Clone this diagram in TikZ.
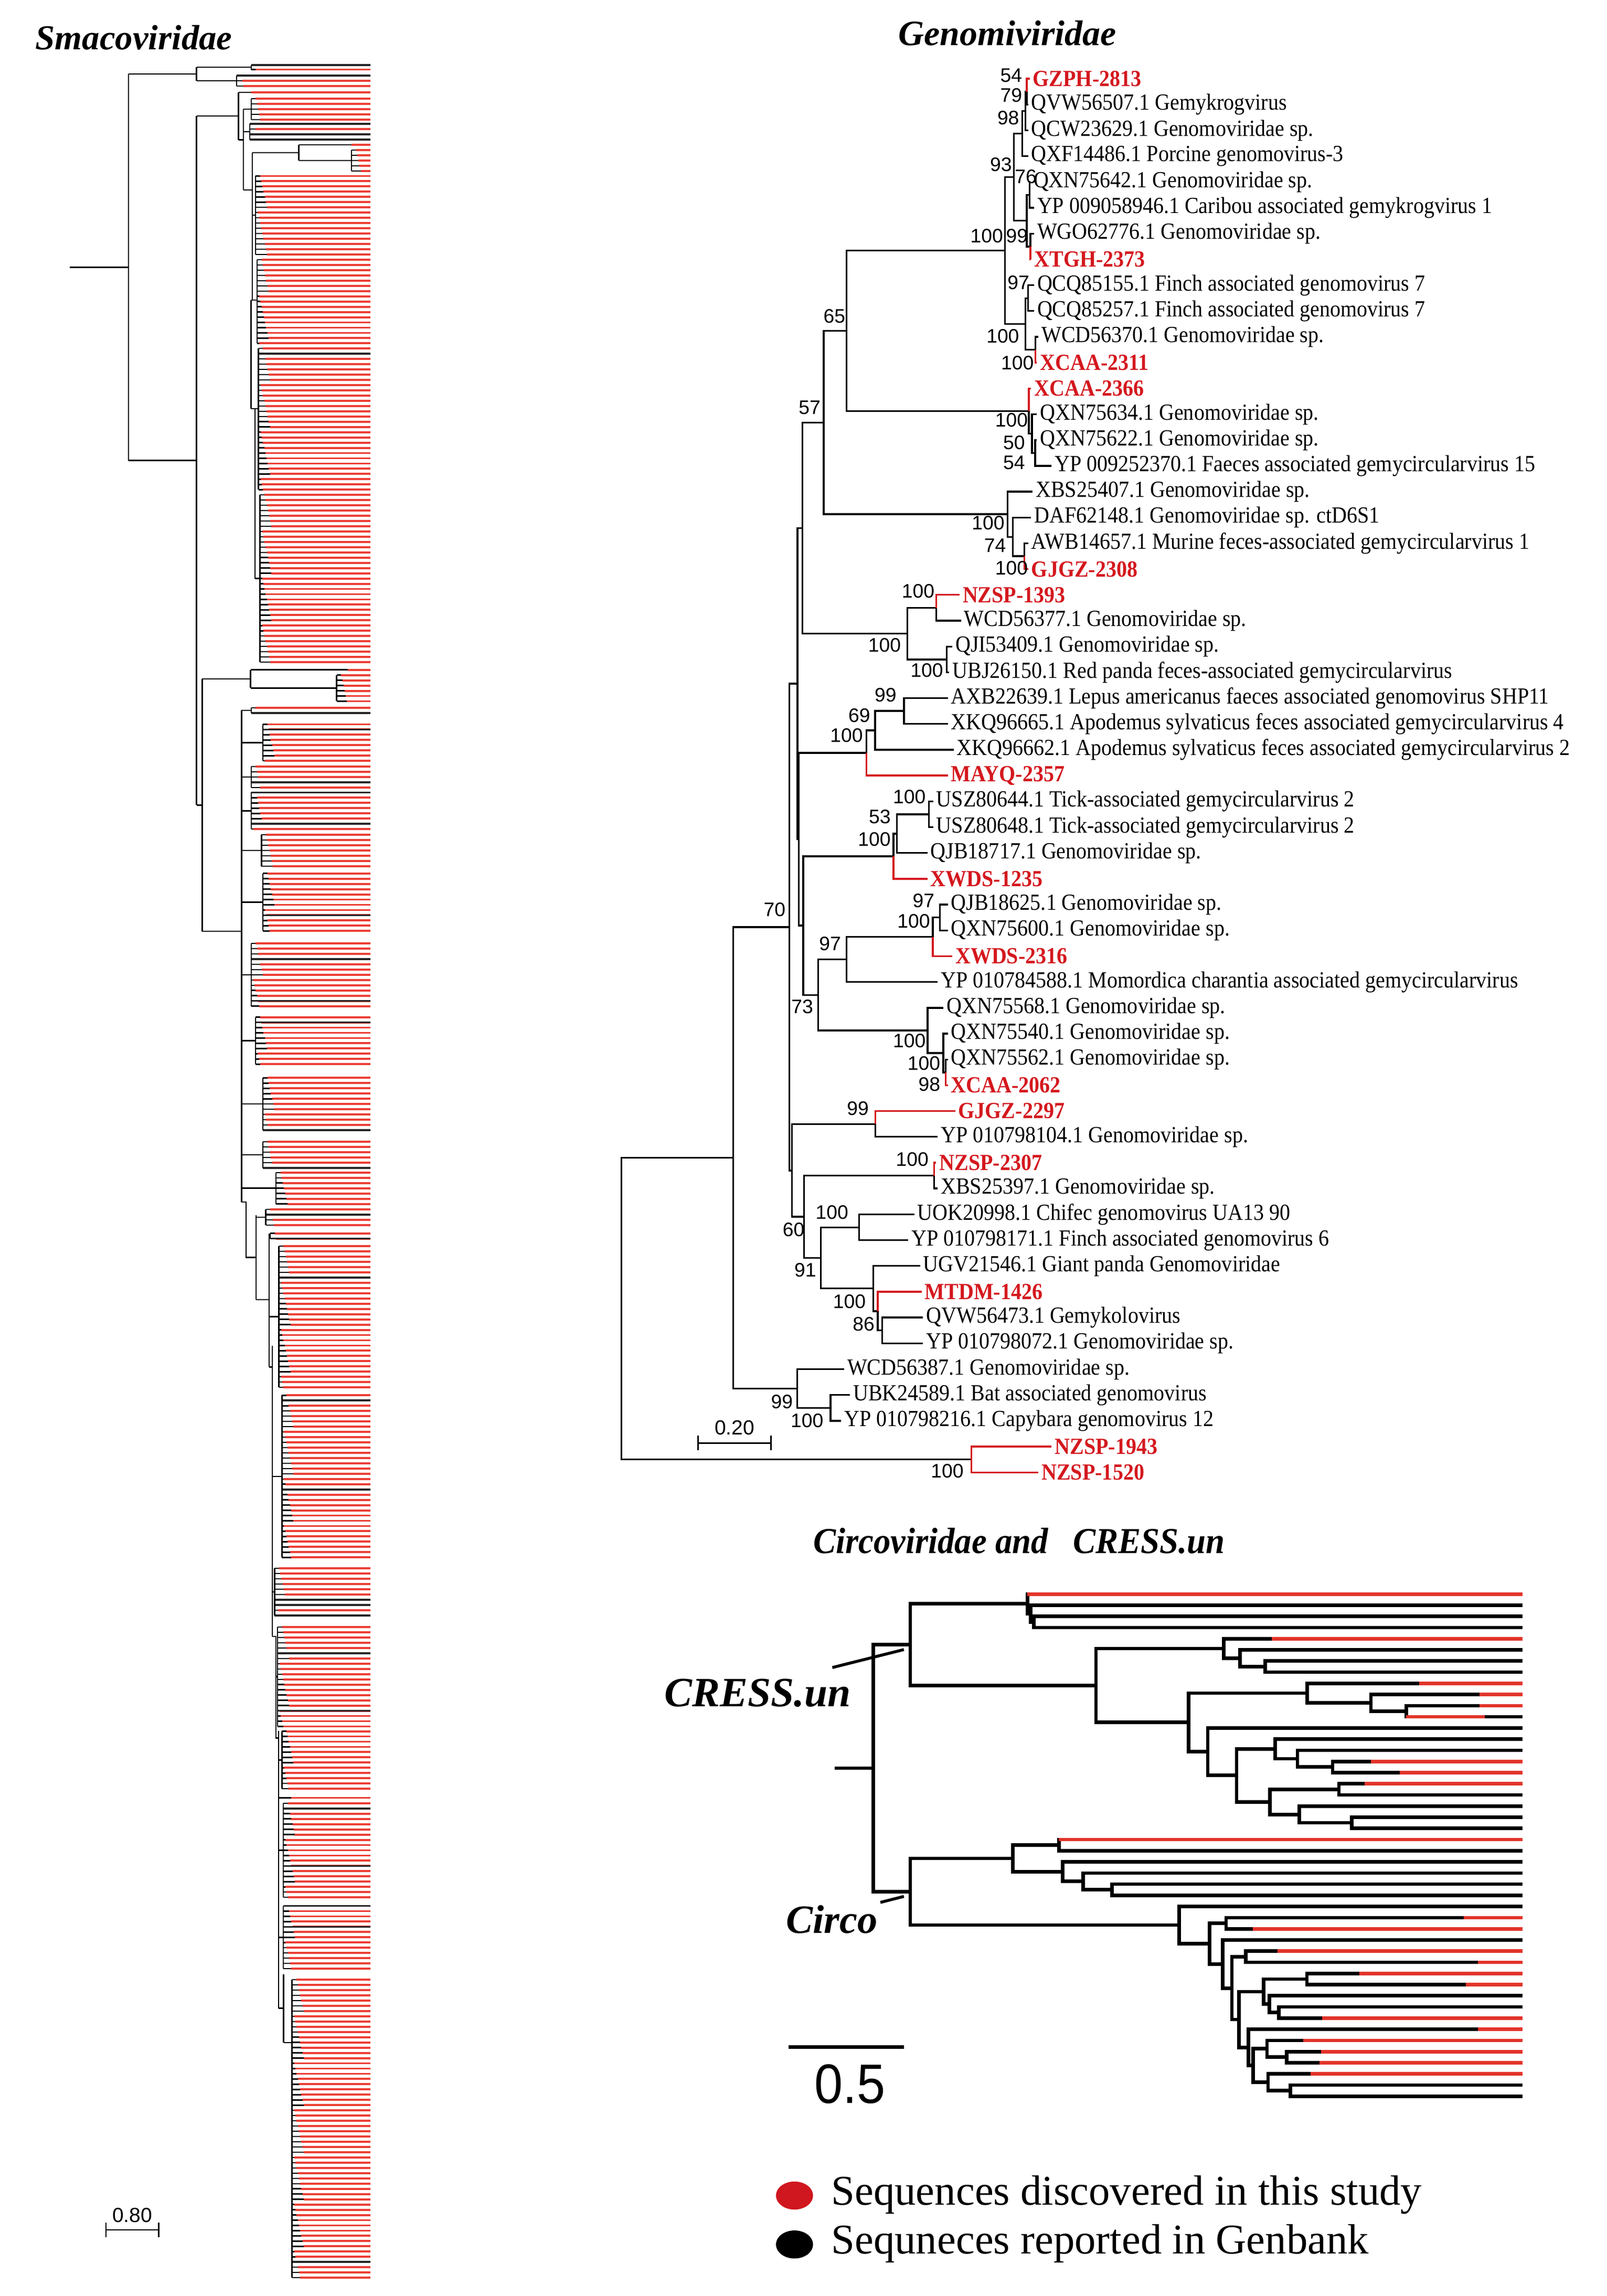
\documentclass[tikz,border=0pt]{standalone}
\usepackage{fontspec}
\setmainfont{Liberation Serif}
\newfontfamily\lfam[FakeStretch=0.91]{Liberation Serif}
\newfontfamily\tfam[FakeStretch=0.93]{Liberation Serif}
\newfontfamily\nfam{Liberation Sans}
\newfontfamily\nfamc[FakeStretch=0.92]{Liberation Sans}
\definecolor{gred}{RGB}{212,24,30}
\definecolor{cred}{RGB}{226,52,42}
\definecolor{sred}{RGB}{236,62,52}
\definecolor{lred}{RGB}{208,22,30}
\newcommand\ry[1]{(53.9+17.67*(#1-1))}
\newcommand\cy[1]{(1091.4+7.64*#1)}
\newcommand\gE[3][gb]{\draw[#1] (#2) |- (#3);}
\newcommand\cE[2]{\draw[cb] (#1) |- (#2);}
\newcommand\cL[2]{\draw[cb] (#1) |- (1042.5,{\cy{#2}});}
\newcommand\cR[2]{\draw[cr] (#1,{\cy{#2}}) -- (1042.5,{\cy{#2}});}
\newcommand\smblk[4]{%
  \pgfmathtruncatemacro\smn{#2-1}%
  \foreach \kk in {0,...,\smn}{%
    \pgfmathsetmacro\yy{#1+\kk*3.58}%
    \pgfmathsetmacro\xs{#3+1.5+mod(\kk*37+11,9)*0.8}%
    \draw[smr] (\xs,\yy) -- (253.6,\yy);
    \draw[smk] (#3,\yy) -- (\xs,\yy);
  }%
  \foreach \kk in {#4}{%
    \ifnum\kk<#2\relax
      \pgfmathsetmacro\yy{#1+\kk*3.58}%
      \draw[smb] (#3,\yy) -- (253.6,\yy);
    \fi
  }%
  \draw[smk] (#3,#1) -- (#3,{#1+\smn*3.58});
}
\tikzset{
  gb/.style={line width=1.2pt, draw=black},
  gr/.style={line width=1.2pt, draw=gred},
  lf/.style={anchor=west, inner xsep=2pt, inner ysep=0pt, font=\lfam\fontsize{15.8}{17}\selectfont},
  rl/.style={lf, text=gred, font=\lfam\bfseries\fontsize{15.8}{17}\selectfont},
  bsn/.style={anchor=east, inner sep=0pt, font=\nfam\fontsize{13.4}{14}\selectfont},
  cb/.style={line width=2.4pt, draw=black},
  cr/.style={line width=2.4pt, draw=cred},
  smk/.style={line width=0.9pt, draw=black},
  smr/.style={line width=1.4pt, draw=sred},
  smb/.style={line width=1.3pt, draw=black!85},
}
\begin{document}
\begin{tikzpicture}[x=1pt,y=-1pt]
\fill[white] (0,0) rectangle (1100,1572);
\useasboundingbox (0,0) rectangle (1100,1572);

% ---------------- titles ----------------
\node[anchor=base west, inner sep=0pt, font=\bfseries\itshape\fontsize{24}{26}\selectfont] (tS) at (24.1,34) {Smacoviridae};
\node[anchor=base west, inner sep=0pt, font=\bfseries\itshape\fontsize{24.4}{26}\selectfont] (tG) at (615,30.9) {Genomiviridae};
\node[inner sep=0pt, font=\tfam\bfseries\itshape\fontsize{25}{28}\selectfont] (tC) at (697.8,1055) {Circoviridae and\hspace{0.45em} CRESS.un};

% ================= Genomiviridae =================
\coordinate (root) at (425.4,896.0);
\coordinate (A) at (502,792.7);
\coordinate (Zn) at (665,999.3);
\coordinate (B) at (540.5,634.7);
\coordinate (C) at (545.8,950.7);
\coordinate (D) at (568.6,963.9);
\coordinate (I) at (546,468.1);
\coordinate (E) at (542.3,801.4);
\coordinate (H) at (549.5,361.6);
\coordinate (M) at (547,574.6);
\coordinate (G) at (564,289.3);
\coordinate (Nn) at (621.4,433.8);
\coordinate (F) at (579.5,226.5);
\coordinate (X1) at (689.9,352.1);
\coordinate (X2) at (693.4,367.6);
\coordinate (X3) at (701.3,380.8);
\coordinate (T1) at (688.2,171.5);
\coordinate (U1) at (704.4,281.4);
\coordinate (V) at (706.6,296.9);
\coordinate (W) at (708.7,310.2);
\coordinate (T2) at (694.3,121.3);
\coordinate (T5) at (702,221.8);
\coordinate (n98) at (700,91.4);
\coordinate (n79) at (702,76);
\coordinate (n54) at (703,62.75);
\coordinate (T4) at (703,151.1);
\coordinate (n76) at (705,133.4);
\coordinate (n99) at (705.5,168.8);
\coordinate (n97) at (704,204.1);
\coordinate (n100a) at (709,239.5);
\coordinate (NZ) at (641,416.2);
\coordinate (QJ) at (648.3,451.5);
\coordinate (K) at (593.2,515.5);
\coordinate (k69) at (599.2,500.1);
\coordinate (k99) at (619,486.8);
\coordinate (L) at (550,633.7);
\coordinate (P) at (611.8,586.2);
\coordinate (p53) at (614.2,570.8);
\coordinate (p100) at (636,557.5);
\coordinate (Q) at (560.3,681.2);
\coordinate (q97) at (579.5,656.9);
\coordinate (q100) at (638.7,641.4);
\coordinate (q97b) at (643.5,628.2);
\coordinate (r100) at (635.1,705.5);
\coordinate (r100b) at (645.9,721.0);
\coordinate (r98) at (647.5,734.2);
\coordinate (e99) at (599.3,769.6);
\coordinate (E2) at (550.5,833.1);
\coordinate (e2307) at (639.6,804.9);
\coordinate (q2) at (562,861.3);
\coordinate (q3) at (588.3,840.3);
\coordinate (q4) at (598,882.2);
\coordinate (n1) at (601,897.7);
\coordinate (n2) at (604,910.9);

\node[rl] (g1) at (705,{\ry{1}}) {GZPH-2813};
\node[lf] (g2) at (704,{\ry{2}}) {QVW56507.1 Gemykrogvirus};
\node[lf] (g3) at (704,{\ry{3}}) {QCW23629.1 Genomoviridae sp.};
\node[lf] (g4) at (704,{\ry{4}}) {QXF14486.1 Porcine genomovirus-3};
\node[lf] (g5) at (705.5,{\ry{5}}) {QXN75642.1 Genomoviridae sp.};
\node[lf] (g6) at (708,{\ry{6}}) {YP 009058946.1 Caribou associated gemykrogvirus 1};
\node[lf] (g7) at (708,{\ry{7}}) {WGO62776.1 Genomoviridae sp.};
\node[rl] (g8) at (706,{\ry{8}}) {XTGH-2373};
\node[lf] (g9) at (708,{\ry{9}}) {QCQ85155.1 Finch associated genomovirus 7};
\node[lf] (g10) at (708,{\ry{10}}) {QCQ85257.1 Finch associated genomovirus 7};
\node[lf] (g11) at (711,{\ry{11}}) {WCD56370.1 Genomoviridae sp.};
\node[rl] (g12) at (710,{\ry{12}}) {XCAA-2311};
\node[rl] (g13) at (706,{\ry{13}}) {XCAA-2366};
\node[lf] (g14) at (710,{\ry{14}}) {QXN75634.1 Genomoviridae sp.};
\node[lf] (g15) at (710,{\ry{15}}) {QXN75622.1 Genomoviridae sp.};
\node[lf] (g16) at (720,{\ry{16}}) {YP 009252370.1 Faeces associated gemycircularvirus 15};
\node[lf] (g17) at (707,{\ry{17}}) {XBS25407.1 Genomoviridae sp.};
\node[lf] (g18) at (706,{\ry{18}}) {DAF62148.1 Genomoviridae sp. ctD6S1};
\node[lf] (g19) at (704,{\ry{19}}) {AWB14657.1 Murine feces-associated gemycircularvirus 1};
\node[rl] (g20) at (704,{\ry{20}}) {GJGZ-2308};
\node[rl] (g21) at (657,{\ry{21}}) {NZSP-1393};
\node[lf] (g22) at (658,{\ry{22}}) {WCD56377.1 Genomoviridae sp.};
\node[lf] (g23) at (652,{\ry{23}}) {QJI53409.1 Genomoviridae sp.};
\node[lf] (g24) at (650,{\ry{24}}) {UBJ26150.1 Red panda feces-associated gemycircularvirus};
\node[lf] (g25) at (649,{\ry{25}}) {AXB22639.1 Lepus americanus faeces associated genomovirus SHP11};
\node[lf] (g26) at (649,{\ry{26}}) {XKQ96665.1 Apodemus sylvaticus feces associated gemycircularvirus 4};
\node[lf] (g27) at (653,{\ry{27}}) {XKQ96662.1 Apodemus sylvaticus feces associated gemycircularvirus 2};
\node[rl] (g28) at (649,{\ry{28}}) {MAYQ-2357};
\node[lf] (g29) at (639,{\ry{29}}) {USZ80644.1 Tick-associated gemycircularvirus 2};
\node[lf] (g30) at (639,{\ry{30}}) {USZ80648.1 Tick-associated gemycircularvirus 2};
\node[lf] (g31) at (635,{\ry{31}}) {QJB18717.1 Genomoviridae sp.};
\node[rl] (g32) at (635,{\ry{32}}) {XWDS-1235};
\node[lf] (g33) at (649,{\ry{33}}) {QJB18625.1 Genomoviridae sp.};
\node[lf] (g34) at (649,{\ry{34}}) {QXN75600.1 Genomoviridae sp.};
\node[rl] (g35) at (652,{\ry{35}}) {XWDS-2316};
\node[lf] (g36) at (642,{\ry{36}}) {YP 010784588.1 Momordica charantia associated gemycircularvirus};
\node[lf] (g37) at (646,{\ry{37}}) {QXN75568.1 Genomoviridae sp.};
\node[lf] (g38) at (649,{\ry{38}}) {QXN75540.1 Genomoviridae sp.};
\node[lf] (g39) at (649,{\ry{39}}) {QXN75562.1 Genomoviridae sp.};
\node[rl] (g40) at (649,{\ry{40}}) {XCAA-2062};
\node[rl] (g41) at (654,{\ry{41}}) {GJGZ-2297};
\node[lf] (g42) at (642,{\ry{42}}) {YP 010798104.1 Genomoviridae sp.};
\node[rl] (g43) at (641,{\ry{43}}) {NZSP-2307};
\node[lf] (g44) at (642,{\ry{44}}) {XBS25397.1 Genomoviridae sp.};
\node[lf] (g45) at (626,{\ry{45}}) {UOK20998.1 Chifec genomovirus UA13 90};
\node[lf] (g46) at (622,{\ry{46}}) {YP 010798171.1 Finch associated genomovirus 6};
\node[lf] (g47) at (630,{\ry{47}}) {UGV21546.1 Giant panda Genomoviridae};
\node[rl] (g48) at (631,{\ry{48}}) {MTDM-1426};
\node[lf] (g49) at (632,{\ry{49}}) {QVW56473.1 Gemykolovirus};
\node[lf] (g50) at (632,{\ry{50}}) {YP 010798072.1 Genomoviridae sp.};
\node[lf] (g51) at (578,{\ry{51}}) {WCD56387.1 Genomoviridae sp.};
\node[lf] (g52) at (582,{\ry{52}}) {UBK24589.1 Bat associated genomovirus};
\node[lf] (g53) at (576,{\ry{53}}) {YP 010798216.1 Capybara genomovirus 12};
\node[rl] (g54) at (720,{\ry{54}}) {NZSP-1943};
\node[rl] (g55) at (711,{\ry{55}}) {NZSP-1520};

% branches
\gE{root}{A} \gE{root}{Zn}
\gE{A}{B} \gE{A}{C}
\gE{B}{I} \gE{B}{E}
\gE{I}{H} \gE{I}{M}
\gE{H}{G} \gE{H}{Nn}
\gE{G}{F} \gE{G}{X1}
\gE{F}{T1} \gE{F}{U1}
\gE{T1}{T2} \gE{T1}{T5}
\gE{T2}{n98} \gE{T2}{T4}
\gE{n98}{n79} \gE{n98}{g4.west}
\gE{n79}{n54} \gE{n79}{g3.west}
\gE[gr]{n54}{g1.west} \gE{n54}{g2.west}
\gE{T4}{n76} \gE{T4}{n99}
\gE{n76}{g5.west} \gE{n76}{g6.west}
\gE{n99}{g7.west} \gE[gr]{n99}{g8.west}
\gE{T5}{n97} \gE{T5}{n100a}
\gE{n97}{g9.west} \gE{n97}{g10.west}
\gE{n100a}{g11.west} \gE[gr]{n100a}{g12.west}
\gE[gr]{U1}{g13.west} \gE{U1}{V}
\gE{V}{g14.west} \gE{V}{W}
\gE{W}{g15.west} \gE{W}{g16.west}
\gE{X1}{g17.west} \gE{X1}{X2}
\gE{X2}{g18.west} \gE{X2}{X3}
\gE{X3}{g19.west} \gE[gr]{X3}{g20.west}
\gE{Nn}{NZ} \gE{Nn}{QJ}
\gE[gr]{NZ}{g21.west} \gE{NZ}{g22.west}
\gE{QJ}{g23.west} \gE{QJ}{g24.west}
\gE{M}{K} \gE{M}{L}
\gE{K}{k69} \gE[gr]{K}{g28.west}
\gE{k69}{k99} \gE{k69}{g27.west}
\gE{k99}{g25.west} \gE{k99}{g26.west}
\gE{L}{P} \gE{L}{Q}
\gE{P}{p53} \gE[gr]{P}{g32.west}
\gE{p53}{p100} \gE{p53}{g31.west}
\gE{p100}{g29.west} \gE{p100}{g30.west}
\gE{Q}{q97} \gE{Q}{r100}
\gE{q97}{q100} \gE{q97}{g36.west}
\gE{q100}{q97b} \gE[gr]{q100}{g35.west}
\gE{q97b}{g33.west} \gE{q97b}{g34.west}
\gE{r100}{g37.west} \gE{r100}{r100b}
\gE{r100b}{g38.west} \gE{r100b}{r98}
\gE{r98}{g39.west} \gE[gr]{r98}{g40.west}
\gE{E}{e99} \gE{E}{E2}
\gE[gr]{e99}{g41.west} \gE{e99}{g42.west}
\gE{E2}{e2307} \gE{E2}{q2}
\gE[gr]{e2307}{g43.west} \gE{e2307}{g44.west}
\gE{q2}{q3} \gE{q2}{q4}
\gE{q3}{g45.west} \gE{q3}{g46.west}
\gE{q4}{g47.west} \gE{q4}{n1}
\gE[gr]{n1}{g48.west} \gE{n1}{n2}
\gE{n2}{g49.west} \gE{n2}{g50.west}
\gE{C}{g51.west} \gE{C}{D}
\gE{D}{g52.west} \gE{D}{g53.west}
\gE[gr]{Zn}{g54.west} \gE[gr]{Zn}{g55.west}

% bootstrap values
\node[bsn] (b1) at (700,51.6) {54};
\node[bsn] (b2) at (700,65.3) {79};
\node[bsn] (b3) at (698,80.8) {98};
\node[bsn] (b4) at (693,112.6) {93};
\node[bsn] (b5) at (710,121) {76};
\node[bsn] (b6) at (687,161.6) {100};
\node[bsn] (b7) at (704,161.6) {99};
\node[bsn] (b8) at (705,193.4) {97};
\node[bsn] (b9) at (698,230.3) {100};
\node[bsn] (b10) at (708,248.4) {100};
\node[bsn] (b11) at (579,216.6) {65};
\node[bsn] (b12) at (562,278.9) {57};
\node[bsn] (b13) at (704,287.5) {100};
\node[bsn] (b14) at (702,303) {50};
\node[bsn] (b15) at (702,316.7) {54};
\node[bsn] (b16) at (688,358) {100};
\node[bsn] (b17) at (689,373.5) {74};
\node[bsn] (b18) at (704,388.9) {100};
\node[bsn] (b19) at (640,404.6) {100};
\node[bsn] (b20) at (617,441.8) {100};
\node[bsn] (b21) at (646,458.8) {100};
\node[bsn] (b22) at (614,475.8) {99};
\node[bsn] (b23) at (596,489.7) {69};
\node[bsn] (b24) at (591,503.6) {100};
\node[bsn] (b25) at (634,545.4) {100};
\node[bsn] (b26) at (610,559.3) {53};
\node[bsn] (b27) at (610,574.8) {100};
\node[bsn] (b28) at (538,622.8) {70};
\node[bsn] (b29) at (640,616.6) {97};
\node[bsn] (b30) at (637,630.5) {100};
\node[bsn] (b31) at (576,646) {97};
\node[bsn] (b32) at (557,689.3) {73};
\node[bsn] (b33) at (634,712.5) {100};
\node[bsn] (b34) at (644,728) {100};
\node[bsn] (b35) at (644,742.5) {98};
\node[bsn] (b36) at (595,759) {99};
\node[bsn] (b37) at (636,793.9) {100};
\node[bsn] (b38) at (581,830) {100};
\node[bsn] (b39) at (551,842) {60};
\node[bsn] (b40) at (559,869.5) {91};
\node[bsn] (b41) at (593,891) {100};
\node[bsn] (b42) at (599,906.4) {86};
\node[bsn] (b43) at (543,959.7) {99};
\node[bsn] (b44) at (564,972.6) {100};
\node[bsn] (b45) at (660,1007) {100};

% scale bar 0.20
\coordinate (sg1) at (477.9,988);
\coordinate (sg2) at (527.9,988);
\draw[gb] (sg1) -- (sg2);
\draw[gb] ([yshift=5pt]sg1) -- ([yshift=-5pt]sg1);
\draw[gb] ([yshift=5pt]sg2) -- ([yshift=-5pt]sg2);
\node[inner sep=0pt, font=\nfam\fontsize{14}{15}\selectfont] (sgt) at (503,977.5) {0.20};

% ================= Circoviridae / CRESS =================
\coordinate (cRt) at (597.9,1210.6);
\coordinate (cStub) at (571.7,1210.6);
\coordinate (C1) at (623.3,1126.0);
\coordinate (ca) at (703.5,1098.1);
\coordinate (cbb) at (705.7,1104.75);
\coordinate (ccc) at (707.9,1110.5);
\coordinate (C3) at (750.4,1153.95);
\coordinate (C4) at (838,1128.65);
\coordinate (c4b) at (849,1135.3);
\coordinate (c4c) at (866.4,1141.05);
\coordinate (C5) at (813.9,1179.25);
\coordinate (c5u) at (894.9,1159.2);
\coordinate (c5v) at (938.7,1165.9);
\coordinate (c5w) at (962.8,1171.6);
\coordinate (C6) at (827,1199.3);
\coordinate (C7) at (846.7,1215.55);
\coordinate (C8) at (873,1197.4);
\coordinate (c8b) at (888.4,1204.1);
\coordinate (c8c) at (912.4,1209.8);
\coordinate (C9) at (869.5,1233.7);
\coordinate (c9a) at (916.8,1225.1);
\coordinate (c9b) at (889.6,1242.3);
\coordinate (c9c) at (925.6,1248.0);
\coordinate (D1) at (623.3,1295.2);
\coordinate (D2) at (693.4,1272.4);
\coordinate (d2a) at (725,1263.3);
\coordinate (d2b) at (727.6,1281.45);
\coordinate (d2c) at (741.6,1288.1);
\coordinate (d2d) at (761.3,1293.85);
\coordinate (D3) at (807.3,1318.0);
\coordinate (D4) at (828.2,1330.75);
\coordinate (d4a) at (839.5,1316.8);
\coordinate (D5) at (837.1,1344.7);
\coordinate (D6) at (843.5,1361.2);
\coordinate (d6a) at (853.1,1339.7);
\coordinate (D7) at (848.3,1382.7);
\coordinate (D8) at (865.1,1363.6);
\coordinate (d8a) at (894.8,1355.0);
\coordinate (d8b) at (869.1,1372.15);
\coordinate (d8c) at (875.5,1377.9);
\coordinate (D9) at (854.7,1401.8);
\coordinate (D12) at (858,1414.2);
\coordinate (D10) at (867.5,1402.7);
\coordinate (d10b) at (881.1,1408.45);
\coordinate (D11) at (868.3,1425.65);
\coordinate (d11b) at (883.5,1431.4);

\draw[cb] (cStub) -- (cRt);
\cE{cRt}{C1} \cE{cRt}{D1}
\cE{C1}{ca} \cE{C1}{C3}
\cL{ca}{0} \cE{ca}{cbb}
\cL{cbb}{1} \cE{cbb}{ccc}
\cL{ccc}{2} \cL{ccc}{3}
\cE{C3}{C4} \cE{C3}{C5}
\cL{C4}{4} \cE{C4}{c4b}
\cL{c4b}{5} \cE{c4b}{c4c}
\cL{c4c}{6} \cL{c4c}{7}
\cE{C5}{c5u} \cE{C5}{C6}
\cL{c5u}{8} \cE{c5u}{c5v}
\cL{c5v}{9} \cE{c5v}{c5w}
\cL{c5w}{10} \cL{c5w}{11}
\cL{C6}{12} \cE{C6}{C7}
\cE{C7}{C8} \cE{C7}{C9}
\cL{C8}{13} \cE{C8}{c8b}
\cL{c8b}{14} \cE{c8b}{c8c}
\cL{c8c}{15} \cL{c8c}{16}
\cE{C9}{c9a} \cE{C9}{c9b}
\cL{c9a}{17} \cL{c9a}{18}
\cL{c9b}{19} \cE{c9b}{c9c}
\cL{c9c}{20} \cL{c9c}{21}
\cE{D1}{D2} \cE{D1}{D3}
\cE{D2}{d2a} \cE{D2}{d2b}
\cL{d2a}{22} \cL{d2a}{23}
\cL{d2b}{24} \cE{d2b}{d2c}
\cL{d2c}{25} \cE{d2c}{d2d}
\cL{d2d}{26} \cL{d2d}{27}
\cL{D3}{28} \cE{D3}{D4}
\cE{D4}{d4a} \cE{D4}{D5}
\cL{d4a}{29} \cL{d4a}{30}
\cL{D5}{31} \cE{D5}{D6}
\cE{D6}{d6a} \cE{D6}{D7}
\cL{d6a}{32} \cL{d6a}{33}
\cE{D7}{D8} \cE{D7}{D9}
\cE{D8}{d8a} \cE{D8}{d8b}
\cL{d8a}{34} \cL{d8a}{35}
\cL{d8b}{36} \cE{d8b}{d8c}
\cL{d8c}{37} \cL{d8c}{38}
\cL{D9}{39} \cE{D9}{D12}
\cE{D12}{D10} \cE{D12}{D11}
\cL{D10}{40} \cE{D10}{d10b}
\cL{d10b}{41} \cL{d10b}{42}
\cL{D11}{43} \cE{D11}{d11b}
\cL{d11b}{44} \cL{d11b}{45}
% red parts
\cR{703.5}{0} \cR{870.8}{4} \cR{971.6}{8} \cR{1013.2}{9} \cR{1013.2}{10}
\draw[cr] (962.8,{\cy{11}}) -- (1016.6,{\cy{11}});
\cR{938.7}{15} \cR{958.4}{16} \cR{934.3}{17} \cR{725}{22}
\cR{1002.2}{29} \cR{857.9}{30} \cR{874.7}{32} \cR{1011.8}{33}
\cR{930.8}{34} \cR{1003.8}{35} \cR{905.2}{38} \cR{1011.8}{39}
\cR{892.4}{40} \cR{904.4}{41} \cR{903.6}{42} \cR{897.2}{43}

% labels and pointers
\node[anchor=west, inner sep=0pt, font=\bfseries\itshape\fontsize{28.5}{30}\selectfont] (lCR) at (454.7,1159) {CRESS.un};
\node[anchor=west, inner sep=0pt, font=\bfseries\itshape\fontsize{27.5}{30}\selectfont] (lCi) at (538,1314) {Circo};
\coordinate (pc1) at (569.9,1141.7); \coordinate (pc2) at (618.9,1129.4);
\coordinate (pd1) at (602.8,1302.5); \coordinate (pd2) at (618.9,1298.4);
\draw[line width=2pt] (pc1) -- (pc2);
\draw[line width=2pt] (pd1) -- (pd2);
% scale 0.5
\coordinate (sc1) at (540,1401.4); \coordinate (sc2) at (619,1401.4);
\draw[line width=2.6pt] (sc1) -- (sc2);
\node[inner sep=0pt, font=\nfamc\fontsize{38}{40}\selectfont] (sct) at (582,1427) {0.5};

% legend
\fill[lred] (544,1503.2) ellipse [x radius=12.7, y radius=9.6];
\fill[black] (544,1536.7) ellipse [x radius=12.7, y radius=9.6];
\node[anchor=west, inner sep=0pt, font=\fontsize{29}{31}\selectfont] (lg1) at (569,1502.6) {Sequences discovered in this study};
\node[anchor=west, inner sep=0pt, font=\fontsize{29}{31}\selectfont] (lg2) at (569,1536.1) {Sequneces reported in Genbank};

% ================= Smacoviridae =================
\draw[smk] (47.8,183) -- (88,183);
\draw[smk] (88,50.65) -- (88,315.3);
\draw[smk] (88,50.65) -- (134.6,50.65);
\draw[smk] (134.6,46) -- (134.6,55.3);
\draw[smk] (134.6,46) -- (172,46);
\draw[smk] (172,44.5) -- (172,47.6);
\draw[smb] (172,44.5) -- (253.6,44.5);
\draw[smr] (175,47.6) -- (253.6,47.6); \draw[smk] (172,47.6) -- (175,47.6);
\draw[smk] (134.6,55.3) -- (162,55.3);
\smblk{51.7}{3}{162}{0}
\draw[smk] (88,315.3) -- (134.6,315.3);
\draw[smk] (134.6,79.4) -- (134.6,551.2);
\draw[smk] (134.6,79.4) -- (163.3,79.4);
\draw[smk] (163.3,63.3) -- (163.3,95.8);
\draw[smk] (163.3,63.3) -- (172,63.3); \draw[smr] (172,63.3) -- (253.6,63.3);
\smblk{67.6}{5}{172}{99}
\draw[smk] (166.7,74.8) -- (166.7,130);
\draw[smk] (166.7,74.8) -- (172,74.8);
\draw[smk] (163.3,95.8) -- (166.7,95.8);
\smblk{84.8}{4}{171}{0,2,3}
\draw[smk] (166.7,90.2) -- (171,90.2);
\draw[smk] (166.7,130) -- (172.8,130);
\draw[smk] (172.8,104.5) -- (172.8,205.5);
\draw[smk] (172.8,104.5) -- (204.6,104.5);
\draw[smk] (204.6,99.1) -- (204.6,109.9);
\draw[smk] (204.6,99.1) -- (240.7,99.1); \draw[smr] (240.7,99.1) -- (253.6,99.1);
\draw[smk] (204.6,109.9) -- (240.7,109.9);
\smblk{102.7}{5}{240.7}{99}
\smblk{120.5}{16}{175}{99}
\draw[smk] (172.8,147.3) -- (175,147.3);
\smblk{177.8}{17}{176}{99}
\draw[smk] (171.9,205.5) -- (176,205.5);
\draw[smk] (171.9,205.5) -- (171.9,279.8);
\smblk{238.6}{28}{177}{1}
\draw[smk] (171.9,279.8) -- (177,279.8);
\draw[smk] (174.5,279.8) -- (174.5,396.1);
\smblk{338.8}{33}{178}{99}
\draw[smk] (174.5,396.1) -- (178,396.1);
% h
\draw[smk] (134.6,551.2) -- (138.4,551.2);
\draw[smk] (138.4,464.9) -- (138.4,637.6);
\draw[smk] (138.4,464.9) -- (171.6,464.9);
\draw[smk] (171.6,458.6) -- (171.6,471.1);
\draw[smk] (171.6,458.6) -- (238,458.6); \draw[smr] (238,458.6) -- (253.6,458.6);
\draw[smk] (171.6,471.1) -- (230.5,471.1);
\smblk{462.2}{6}{230.5}{99}
% S3
\draw[smk] (138.4,637.6) -- (165.4,637.6);
\draw[smk] (165.4,486.4) -- (165.4,823);
\smblk{484.6}{2}{172}{1} \draw[smk] (165.4,486.4) -- (172,486.4);
\smblk{495.9}{8}{180}{1} \draw[smk] (165.4,508.4) -- (180,508.4);
\smblk{524.9}{5}{172}{3} \draw[smk] (165.4,532.1) -- (172,532.1);
\smblk{542.6}{8}{172}{0,6} \draw[smk] (165.4,555.1) -- (172,555.1);
\smblk{571.6}{7}{179}{99} \draw[smk] (165.4,582.3) -- (179,582.3);
\smblk{598}{12}{180}{8} \draw[smk] (165.4,617.7) -- (180,617.7);
\smblk{645.9}{13}{172}{3,11} \draw[smk] (165.4,667.4) -- (172,667.4);
\smblk{696.4}{10}{175}{1} \draw[smk] (165.4,712.5) -- (175,712.5);
\smblk{738}{11}{180}{10} \draw[smk] (165.4,755.9) -- (180,755.9);
\smblk{781.7}{6}{180}{5} \draw[smk] (165.4,790.65) -- (180,790.65);
\smblk{802.8}{7}{189}{99} \draw[smk] (165.4,813.5) -- (189,813.5);
\draw[smk] (165.4,823) -- (168.5,823) -- (168.5,860.8) -- (175.3,860.8);
\draw[smk] (175.3,831.8) -- (175.3,889.8);
\smblk{828}{4}{182}{1} \draw[smk] (175.3,833.4) -- (182,833.4);
\draw[smk] (175.3,889.8) -- (184.3,889.8);
\draw[smk] (184.3,844.4) -- (184.3,935.9);
\smblk{844.4}{2}{185}{1} \draw[smk] (184.3,846.2) -- (185,846.2);
\smblk{853.2}{28}{191}{6} \draw[smk] (184.3,901.5) -- (191,901.5);
\draw[smk] (184.3,935.9) -- (186.5,935.9);
\draw[smk] (186.5,921.3) -- (186.5,1120.5);
\smblk{955.3}{32}{193}{1,18} \draw[smk] (186.5,1010.8) -- (193,1010.8);
\smblk{1073.8}{10}{188}{6,7,9} \draw[smk] (186.5,1089.9) -- (188,1089.9);
\draw[smk] (186.5,1120.5) -- (189,1120.5) -- (189,1190) -- (190.8,1190);
\smblk{1114}{20}{190}{5,16} \draw[smk] (189,1148) -- (190,1148);
\draw[smk] (190.8,1185) -- (190.8,1375);
\smblk{1185.3}{12}{193}{99} \draw[smk] (190.8,1205) -- (193,1205);
\draw[smk] (190.8,1230.9) -- (199.4,1230.9); \draw[smr] (199.4,1230.9) -- (253.6,1230.9);
\smblk{1234.6}{19}{194}{1,12} \draw[smk] (190.8,1266.8) -- (194,1266.8);
\smblk{1304.9}{13}{194}{0,4} \draw[smk] (190.8,1326.4) -- (194,1326.4);
\draw[smk] (190.8,1375) -- (194.2,1375);
\draw[smk] (194.2,1351.7) -- (194.2,1398.5);
\smblk{1355.4}{58}{200}{54} \draw[smk] (194.2,1398.5) -- (200,1398.5);
% scale 0.80
\coordinate (ss1) at (72.5,1526.7); \coordinate (ss2) at (108.6,1526.7);
\draw[smk] (ss1) -- (ss2);
\draw[smk] ([yshift=5pt]ss1) -- ([yshift=-5pt]ss1);
\draw[smk] ([yshift=5pt]ss2) -- ([yshift=-5pt]ss2);
\node[inner sep=0pt, font=\nfam\fontsize{14}{15}\selectfont] (sst) at (90.5,1516.8) {0.80};
\end{tikzpicture}
\end{document}
